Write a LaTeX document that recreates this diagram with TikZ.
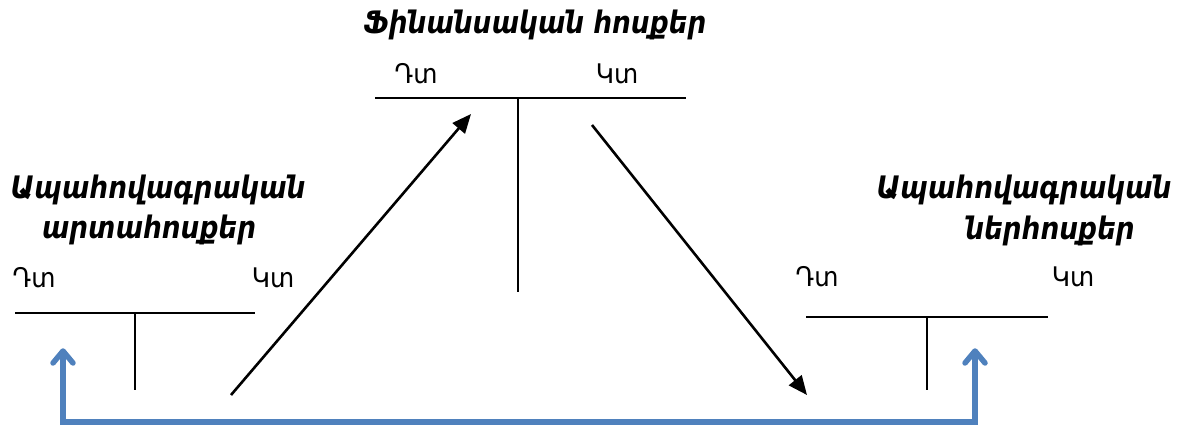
\documentclass[tikz,border=0pt]{standalone}
\usepackage{fontspec}
\setmainfont{DejaVu Sans}
\newfontfamily\titlefont[FakeStretch=0.85]{DejaVu Sans}
\newfontfamily\sidefont[FakeStretch=0.92]{DejaVu Sans}
\usetikzlibrary{arrows.meta,calc}
\definecolor{flowblue}{RGB}{79,129,189}
\begin{document}
\begin{tikzpicture}[x=1pt,y=-1pt,
  title/.style={font=\titlefont\fontsize{31}{36}\selectfont\bfseries\itshape, inner sep=0pt, anchor=base},
  side/.style={font=\sidefont\fontsize{27}{30}\selectfont, inner sep=0pt, anchor=base},
  tline/.style={line width=1.8pt},
  flow/.style={line width=2.6pt, -{Triangle[length=19pt,width=16pt]}},
  back/.style={line width=5.5pt, flowblue, line join=miter},
  chevron/.style={line width=5.5pt, flowblue, line cap=round, line join=round}]
\useasboundingbox (0,0) rectangle (1180,429);
% top account
\node[title] (ttop) at (535,33) {Ֆինանսական հոսքեր};
\node[side] (dtop) at (416,83) {Դտ};
\node[side] (ktop) at (617,83) {Կտ};
\coordinate (tl) at (375,98); \coordinate (tr) at (686,98);
\coordinate (tm) at (518,98); \coordinate (tb) at (518,292);
\draw[tline] (tl) -- (tr); \draw[tline] (tm) -- (tb);
% left account
\node[title] (lt1) at (158,198) {Ապահովագրական};
\node[title] (lt2) at (149,238) {արտահոսքեր};
\node[side] (dl) at (34,287) {Դտ};
\node[side] (kl) at (273,287) {Կտ};
\coordinate (ll) at (15,313); \coordinate (lr) at (255,313);
\coordinate (lm) at (135,313); \coordinate (lb) at (135,390);
\draw[tline] (ll) -- (lr); \draw[tline] (lm) -- (lb);
% right account
\node[title] (rt1) at (1024,198) {Ապահովագրական};
\node[title] (rt2) at (1050,239) {ներհոսքեր};
\node[side] (dr) at (817,286) {Դտ};
\node[side] (kr) at (1073,286) {Կտ};
\coordinate (rl) at (806,317); \coordinate (rr) at (1048,317);
\coordinate (rm) at (927,317); \coordinate (rb) at (927,390);
\draw[tline] (rl) -- (rr); \draw[tline] (rm) -- (rb);
% flows
\coordinate (a1s) at (231,395); \coordinate (a1e) at (471,114);
\coordinate (a2s) at (592,125); \coordinate (a2e) at (807,395);
\draw[flow] (a1s) -- (a1e);
\draw[flow] (a2s) -- (a2e);
% blue return
\coordinate (bl) at (63,351); \coordinate (br) at (975,351);
\coordinate (bbl) at (63,422); \coordinate (bbr) at (975,422);
\draw[back] (bl) -- (bbl) -- (bbr) -- (br);
\draw[chevron] ($(bl)+(-10,12)$) -- (bl) -- ($(bl)+(10,12)$);
\draw[chevron] ($(br)+(-10,12)$) -- (br) -- ($(br)+(10,12)$);
\end{tikzpicture}
\end{document}
